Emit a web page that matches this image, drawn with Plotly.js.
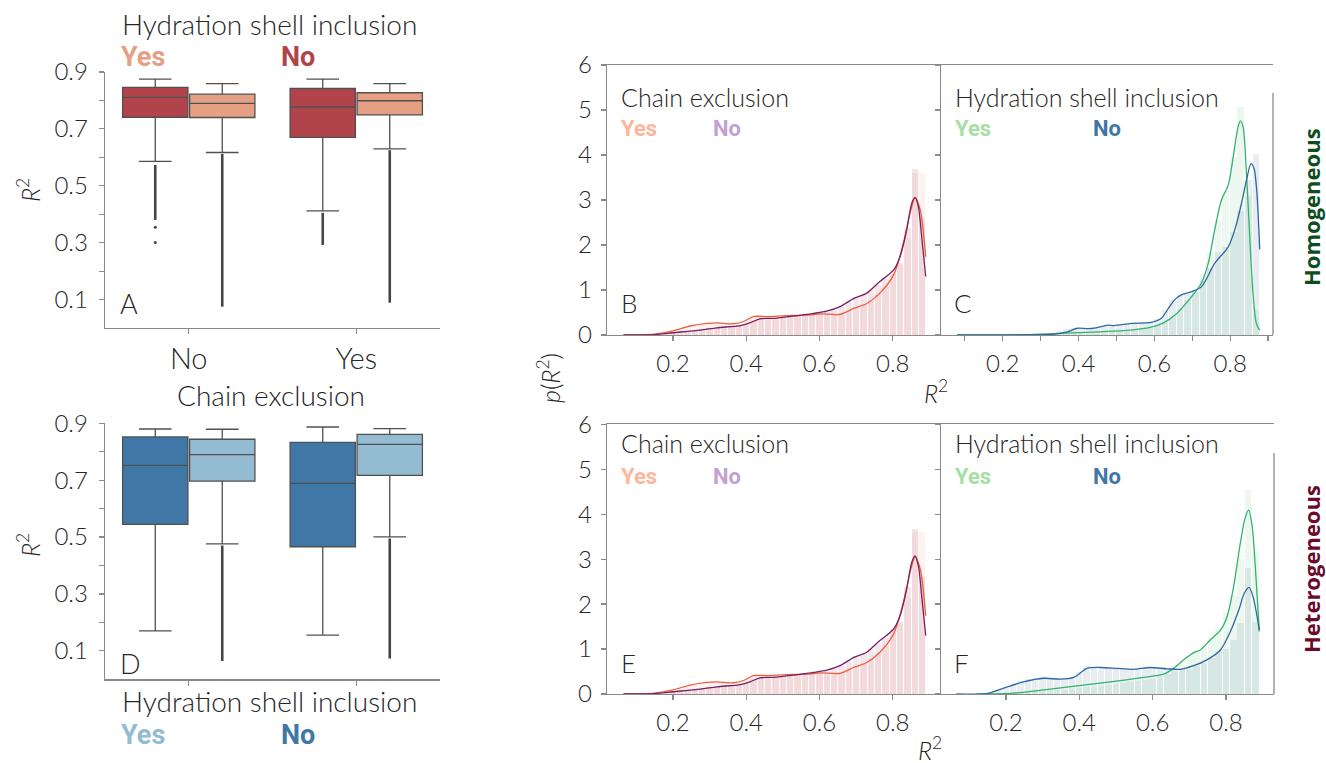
<!DOCTYPE html>
<html>
<head>
<meta charset="utf-8">
<script src="https://cdn.plot.ly/plotly-3.0.1.min.js"></script>
<style>
  html, body { margin: 0; padding: 0; background: #fff; }
  #chart { width: 1326px; height: 763px; }
</style>
</head>
<body>
<div id="chart"></div>
<script>
// ---------- box plots (A: colored by hydration shell, D: by chain exclusion) ----------
const boxCats = ['No', 'Yes'];

// A, hydration shell "No" (dark red)
const aRedQ1 = [0.741, 0.670];
const aRedMed = [0.811, 0.777];
const aRedQ3 = [0.846, 0.842];
const aRedLo = [0.586, 0.412];
const aRedHi = [0.875, 0.875];
const aRedOutTop = [0.573, 0.405];
const aRedOutBot = [0.380, 0.292];
const aRedLone = [[0.354, 0.301], []];

// A, hydration shell "Yes" (salmon)
const aSalQ1 = [0.740, 0.749];
const aSalMed = [0.790, 0.799];
const aSalQ3 = [0.822, 0.827];
const aSalLo = [0.617, 0.630];
const aSalHi = [0.859, 0.859];
const aSalOutTop = [0.612, 0.625];
const aSalOutBot = [0.075, 0.089];

// D, dark blue
const dDarkQ1 = [0.545, 0.466];
const dDarkMed = [0.752, 0.689];
const dDarkQ3 = [0.852, 0.833];
const dDarkLo = [0.170, 0.155];
const dDarkHi = [0.880, 0.887];

// D, light blue
const dLightQ1 = [0.697, 0.717];
const dLightMed = [0.790, 0.826];
const dLightQ3 = [0.844, 0.861];
const dLightLo = [0.476, 0.501];
const dLightHi = [0.879, 0.881];
const dLightOutTop = [0.470, 0.495];
const dLightOutBot = [0.064, 0.073];

// ---------- densities p(R^2) ----------
// B: homogeneous, chain exclusion
const bYesX = [0.065,0.15,0.2,0.247,0.293,0.32,0.365,0.393,0.42,0.456,0.51,0.565,0.602,0.656,0.693,0.729,0.765,0.802,0.829,0.847,0.861,0.875,0.89];
const bYesY = [0,0.02,0.09,0.2,0.26,0.27,0.25,0.30,0.41,0.41,0.43,0.44,0.47,0.46,0.59,0.70,0.93,1.33,2.04,2.70,3.05,2.78,1.74];
const bNoX = [0.065,0.15,0.2,0.275,0.32,0.384,0.41,0.438,0.475,0.53,0.584,0.62,0.656,0.693,0.729,0.765,0.802,0.82,0.838,0.852,0.861,0.87,0.879,0.89];
const bNoY = [0,0.01,0.05,0.11,0.16,0.21,0.27,0.36,0.37,0.42,0.48,0.53,0.63,0.81,0.93,1.19,1.44,1.74,2.33,2.93,3.06,2.85,2.19,1.30];

// C: homogeneous, hydration shell
const cYesX = [0.079,0.272,0.36,0.448,0.536,0.589,0.624,0.659,0.694,0.724,0.742,0.759,0.777,0.795,0.808,0.821,0.827,0.834,0.843,0.852,0.861,0.869,0.878];
const cYesY = [0,0.01,0.04,0.07,0.11,0.17,0.27,0.48,0.81,1.15,1.59,2.33,3.0,3.33,3.96,4.63,4.76,4.63,3.59,2.11,0.85,0.26,0.1];
const cNoX = [0.079,0.30,0.327,0.371,0.397,0.424,0.446,0.477,0.494,0.539,0.592,0.618,0.64,0.653,0.671,0.697,0.724,0.759,0.795,0.812,0.83,0.843,0.855,0.863,0.87,0.878];
const cNoY = [0,0.005,0.01,0.07,0.15,0.14,0.16,0.22,0.21,0.26,0.28,0.37,0.63,0.78,0.89,0.96,1.07,1.59,1.96,2.33,2.93,3.44,3.81,3.70,3.22,1.90];

// E: heterogeneous, chain exclusion
const eYesX = [0.065,0.15,0.2,0.247,0.293,0.32,0.365,0.393,0.42,0.456,0.51,0.565,0.602,0.656,0.693,0.729,0.765,0.802,0.829,0.847,0.861,0.875,0.89];
const eYesY = [0,0.02,0.09,0.2,0.26,0.27,0.25,0.30,0.41,0.41,0.43,0.44,0.47,0.46,0.59,0.70,0.93,1.33,2.04,2.70,3.05,2.78,1.74];
const eNoX = [0.065,0.15,0.2,0.275,0.32,0.384,0.41,0.438,0.475,0.53,0.584,0.62,0.656,0.693,0.729,0.765,0.802,0.82,0.838,0.852,0.861,0.87,0.879,0.89];
const eNoY = [0,0.01,0.05,0.11,0.16,0.21,0.27,0.36,0.37,0.42,0.48,0.53,0.63,0.81,0.93,1.19,1.44,1.74,2.33,2.93,3.07,2.85,2.19,1.30];

// F: heterogeneous, hydration shell
const fYesX = [0.12,0.221,0.303,0.394,0.485,0.575,0.63,0.657,0.685,0.712,0.73,0.757,0.785,0.803,0.821,0.839,0.853,0.862,0.871,0.88,0.891];
const fYesY = [0,0.02,0.09,0.18,0.27,0.37,0.44,0.57,0.76,0.92,0.98,1.2,1.42,1.72,2.39,3.35,3.94,4.09,3.76,2.83,1.39];
const fNoX = [0.065,0.148,0.194,0.248,0.303,0.348,0.385,0.421,0.457,0.503,0.548,0.594,0.639,0.675,0.712,0.748,0.785,0.812,0.835,0.85,0.863,0.874,0.891];
const fNoY = [0,0.01,0.13,0.27,0.35,0.33,0.37,0.57,0.59,0.57,0.55,0.59,0.56,0.55,0.63,0.76,0.98,1.39,1.87,2.24,2.37,2.16,1.42];

// histogram bins (start centre, width) and normalised counts
const binWidth = 0.02;
const bBinStart = 0.10, cBinStart = 0.088, eBinStart = 0.10, fBinStart = 0.10;
const bYesHist = [0.01,0.01,0.02,0.03,0.05,0.08,0.12,0.17,0.21,0.24,0.26,0.26,0.25,0.24,0.26,0.32,0.45,0.42,0.41,0.42,0.43,0.42,0.43,0.44,0.45,0.46,0.45,0.45,0.48,0.55,0.62,0.68,0.78,0.92,1.10,1.35,1.55,2.15,3.60,3.60];
const bNoHist = [0.00,0.01,0.01,0.02,0.03,0.05,0.07,0.09,0.11,0.13,0.15,0.16,0.17,0.18,0.20,0.25,0.33,0.37,0.37,0.38,0.41,0.42,0.43,0.44,0.47,0.50,0.52,0.56,0.62,0.72,0.84,0.90,1.00,1.12,1.25,1.45,1.60,2.37,3.68,2.60];
const cYesHist = [0.01,0.01,0.01,0.01,0.01,0.01,0.01,0.01,0.01,0.01,0.02,0.02,0.03,0.03,0.04,0.04,0.05,0.06,0.07,0.07,0.08,0.09,0.10,0.11,0.13,0.16,0.22,0.30,0.42,0.58,0.78,1.00,1.35,1.85,2.55,3.20,3.95,5.06,3.10,0.55];
const cNoHist = [0.00,0.00,0.00,0.00,0.00,0.00,0.00,0.00,0.01,0.01,0.01,0.02,0.04,0.08,0.14,0.16,0.14,0.15,0.16,0.20,0.22,0.22,0.24,0.27,0.29,0.30,0.36,0.55,0.78,0.88,0.92,0.95,1.20,1.50,1.85,1.95,2.30,2.75,3.45,4.02];
const eYesHist = [0.01,0.01,0.02,0.03,0.05,0.08,0.12,0.17,0.21,0.24,0.26,0.26,0.25,0.24,0.26,0.32,0.45,0.42,0.41,0.42,0.43,0.42,0.43,0.44,0.45,0.46,0.45,0.45,0.48,0.55,0.62,0.68,0.78,0.92,1.10,1.35,1.55,2.15,3.60,3.60];
const eNoHist = [0.00,0.01,0.01,0.02,0.03,0.05,0.07,0.09,0.11,0.13,0.15,0.16,0.17,0.18,0.20,0.25,0.33,0.37,0.37,0.38,0.41,0.42,0.43,0.44,0.47,0.50,0.52,0.56,0.62,0.72,0.84,0.90,1.00,1.12,1.25,1.45,1.60,2.37,3.68,2.60];
const fYesHist = [0.00,0.00,0.00,0.01,0.01,0.02,0.03,0.04,0.05,0.06,0.07,0.08,0.09,0.10,0.12,0.13,0.15,0.16,0.18,0.20,0.22,0.24,0.26,0.28,0.31,0.34,0.38,0.44,0.52,0.65,0.85,0.95,1.05,1.25,1.45,1.80,2.20,3.00,4.53,3.19];
const fNoHist = [0.00,0.01,0.02,0.05,0.09,0.14,0.22,0.28,0.33,0.36,0.37,0.36,0.35,0.35,0.38,0.50,0.63,0.60,0.55,0.60,0.58,0.56,0.55,0.58,0.57,0.60,0.56,0.55,0.54,0.55,0.56,0.62,0.68,0.80,0.95,1.00,1.20,1.57,2.81,1.60];

// ---------- styling ----------
const W = 1326, H = 763;
const px = v => v / W;
const py = v => 1 - v / H;
const LIGHT = {family: 'Lato, "Open Sans", sans-serif', weight: 300, color: '#262626'};
const BOLD = 'Roboto, "Liberation Sans", sans-serif';
const AX = '#8a8a8a';

const col = {
  red: '#b0444a', salmon: '#e5a084',
  darkBlue: '#3f77a6', lightBlue: '#93bbd2',
  orange: '#ef5c3c', purple: '#7a2062',
  green: '#30b46c', blue: '#2f68a0'
};

const traces = [];
const offset = 0.2, boxW = 0.39;

function boxTrace(axis, q1, med, q3, lo, hi, fill, side) {
  return {
    type: 'box', xaxis: 'x' + axis, yaxis: 'y' + axis,
    x: boxCats.map((c, i) => i + side * offset),
    q1: q1, median: med, q3: q3, lowerfence: lo, upperfence: hi,
    width: boxW, whiskerwidth: 0.5, boxpoints: false,
    fillcolor: fill, line: {color: '#505050', width: 1.3},
    hoverinfo: 'skip', showlegend: false
  };
}
function outlierTraces(axis, top, bot, side, lone) {
  boxCats.forEach((c, i) => {
    traces.push({
      type: 'scatter', mode: 'lines', xaxis: 'x' + axis, yaxis: 'y' + axis,
      x: [i + side * offset, i + side * offset], y: [top[i], bot[i]],
      line: {color: '#454545', width: 2.6}, showlegend: false, hoverinfo: 'skip'
    });
    if (lone && lone[i].length) {
      traces.push({
        type: 'scatter', mode: 'markers', xaxis: 'x' + axis, yaxis: 'y' + axis,
        x: lone[i].map(() => i + side * offset), y: lone[i],
        marker: {color: '#454545', size: 3}, showlegend: false, hoverinfo: 'skip'
      });
    }
  });
}

traces.push(boxTrace('', aRedQ1, aRedMed, aRedQ3, aRedLo, aRedHi, col.red, -1));
traces.push(boxTrace('', aSalQ1, aSalMed, aSalQ3, aSalLo, aSalHi, col.salmon, 1));
outlierTraces('', aRedOutTop, aRedOutBot, -1, aRedLone);
outlierTraces('', aSalOutTop, aSalOutBot, 1, null);

traces.push(boxTrace('2', dDarkQ1, dDarkMed, dDarkQ3, dDarkLo, dDarkHi, col.darkBlue, -1));
traces.push(boxTrace('2', dLightQ1, dLightMed, dLightQ3, dLightLo, dLightHi, col.lightBlue, 1));
outlierTraces('2', dLightOutTop, dLightOutBot, 1, null);

function histTrace(axis, start, vals, color) {
  return {
    type: 'bar', xaxis: 'x' + axis, yaxis: 'y' + axis,
    x0: start, dx: binWidth, y: vals, width: binWidth * 0.88,
    marker: {color: color, line: {width: 0}},
    showlegend: false, hoverinfo: 'skip'
  };
}
function kdeTrace(axis, xs, ys, color) {
  return {
    type: 'scatter', mode: 'lines', xaxis: 'x' + axis, yaxis: 'y' + axis,
    x: xs, y: ys, line: {color: color, width: 1.3, shape: 'spline', smoothing: 0.8},
    showlegend: false, hoverinfo: 'skip'
  };
}
const pinkYes = 'rgba(250,185,170,0.2)', pinkNo = 'rgba(160,60,100,0.13)';
const greenYes = 'rgba(160,220,175,0.2)', blueNo = 'rgba(120,155,180,0.18)';

traces.push(histTrace('3', bBinStart, bYesHist, pinkYes), histTrace('3', bBinStart, bNoHist, pinkNo));
traces.push(kdeTrace('3', bYesX, bYesY, col.orange), kdeTrace('3', bNoX, bNoY, col.purple));
traces.push(histTrace('4', cBinStart, cYesHist, greenYes), histTrace('4', cBinStart, cNoHist, blueNo));
traces.push(kdeTrace('4', cYesX, cYesY, col.green), kdeTrace('4', cNoX, cNoY, col.blue));
traces.push(histTrace('5', eBinStart, eYesHist, pinkYes), histTrace('5', eBinStart, eNoHist, pinkNo));
traces.push(kdeTrace('5', eYesX, eYesY, col.orange), kdeTrace('5', eNoX, eNoY, col.purple));
traces.push(histTrace('6', fBinStart, fYesHist, greenYes), histTrace('6', fBinStart, fNoHist, blueNo));
traces.push(kdeTrace('6', fYesX, fYesY, col.green), kdeTrace('6', fNoX, fNoY, col.blue));

// ---------- axes ----------
const tickFont = {family: LIGHT.family, weight: 300, size: 24, color: '#262626'};
const baseAxis = {
  showline: true, linecolor: AX, linewidth: 1.3, ticks: 'outside', ticklen: 5,
  tickcolor: AX, tickwidth: 1.2, showgrid: false, zeroline: false,
  tickfont: tickFont, fixedrange: true
};
const r2Ticks = [0.1, 0.2, 0.3, 0.4, 0.5, 0.6, 0.7, 0.8, 0.9];
const r2Text = ['0.1', ' ', '0.3', ' ', '0.5', ' ', '0.7', ' ', '0.9'];
const pTicks = [0, 1, 2, 3, 4, 5, 6];
const xMajor = [0.2, 0.4, 0.6, 0.8];
const xMajorText = ['0.2', '0.4', '0.6', '0.8'];
const xMinorText = [' ', '0.2', ' ', '0.4', ' ', '0.6', ' ', '0.8', ' '];

const leftX = [px(105), px(440)];
const topY = [py(328), py(72)];
const botY = [py(679.3), py(423.3)];
const bX = [px(607), px(940)];
const cX = [px(941), px(1273)];
const fX = [px(941), px(1274)];
const rTopY = [py(335), py(65)];
const rBotY = [py(694), py(424.3)];

const layout = {
  width: W, height: H, margin: {l: 0, r: 0, t: 0, b: 0},
  paper_bgcolor: '#fff', plot_bgcolor: 'rgba(0,0,0,0)',
  barmode: 'overlay', bargap: 0, showlegend: false,
  font: {family: LIGHT.family, color: '#262626'},
  xaxis: Object.assign({}, baseAxis, {domain: leftX, range: [-0.5, 1.5], anchor: 'y',
    tickvals: [0, 1], ticktext: boxCats, ticklabelstandoff: 0,
    tickfont: Object.assign({}, tickFont, {size: 29})}),
  yaxis: Object.assign({}, baseAxis, {domain: topY, range: [0, 0.9], anchor: 'x',
    tickvals: r2Ticks, ticktext: r2Text, ticklabelstandoff: 6}),
  xaxis2: Object.assign({}, baseAxis, {domain: leftX, range: [-0.5, 1.5], anchor: 'y2',
    tickvals: [0, 1], showticklabels: false}),
  yaxis2: Object.assign({}, baseAxis, {domain: botY, range: [0, 0.9], anchor: 'x2',
    tickvals: r2Ticks, ticktext: r2Text, ticklabelstandoff: 6}),
  xaxis3: Object.assign({}, baseAxis, {domain: bX, range: [0.02, 0.929], anchor: 'y3',
    tickvals: xMajor, ticktext: xMajorText, mirror: true, ticklabelstandoff: 2}),
  yaxis3: Object.assign({}, baseAxis, {domain: rTopY, range: [0, 6], anchor: 'x3',
    tickvals: pTicks, ticklabelstandoff: 4}),
  xaxis4: Object.assign({}, baseAxis, {domain: cX, range: [0.037, 0.913], anchor: 'y4',
    tickvals: r2Ticks, ticktext: xMinorText, mirror: true, ticklabelstandoff: 2}),
  yaxis4: Object.assign({}, baseAxis, {domain: rTopY, range: [0, 6], anchor: 'x4',
    tickvals: pTicks, showticklabels: false}),
  xaxis5: Object.assign({}, baseAxis, {domain: bX, range: [0.02, 0.929], anchor: 'y5',
    tickvals: xMajor, ticktext: xMajorText, mirror: true, ticklabelstandoff: 2}),
  yaxis5: Object.assign({}, baseAxis, {domain: rBotY, range: [0, 6], anchor: 'x5',
    tickvals: pTicks, ticklabelstandoff: 4}),
  xaxis6: Object.assign({}, baseAxis, {domain: fX, range: [0.023, 0.931], anchor: 'y6',
    tickvals: xMajor, ticktext: xMajorText, mirror: true, ticklabelstandoff: 2}),
  yaxis6: Object.assign({}, baseAxis, {domain: rBotY, range: [0, 6], anchor: 'x6',
    tickvals: pTicks, showticklabels: false}),
  shapes: [
    {type: 'line', xref: 'x4 domain', yref: 'y4 domain', x0: 1, x1: 1, y0: 0, y1: 0.896,
     line: {color: AX, width: 1.3}},
    {type: 'line', xref: 'x6 domain', yref: 'y6 domain', x0: 1, x1: 1, y0: 0, y1: 0.894,
     line: {color: AX, width: 1.3}}
  ],
  annotations: []
};

function label(text, x, y, opts) {
  layout.annotations.push(Object.assign({
    text: text, xref: 'paper', yref: 'paper', x: px(x), y: py(y),
    xanchor: 'left', yanchor: 'middle', showarrow: false,
    font: {family: LIGHT.family, weight: 300, size: 25, color: '#262626'}
  }, opts || {}));
}
// heavy group labels
function tag(text, x, y, color, size) {
  label(text, x, y, {font: {family: BOLD, weight: 700, size: size, color: color}});
}
const big = {xanchor: 'center', font: {family: LIGHT.family, weight: 300, size: 28, color: '#262626'}};
const small = {font: {family: LIGHT.family, weight: 300, size: 25, color: '#262626'}};
const axTitle = size => ({family: LIGHT.family, weight: 300, size: size, color: '#262626'});

// left column
label('Hydration shell inclusion', 269, 24, big);
tag('Yes', 119, 57, col.salmon, 27);
tag('No', 279, 57, col.red, 27);
label('<i>R</i><sup>2</sup>', 28, 190, {xanchor: 'center', textangle: -90, font: axTitle(25)});
label('A', 118, 303, {font: axTitle(27)});

label('Chain exclusion', 271, 395, big);
label('Hydration shell inclusion', 269, 701, big);
tag('Yes', 119, 735, col.lightBlue, 27);
tag('No', 279, 735, col.darkBlue, 27);
label('<i>R</i><sup>2</sup>', 28, 545, {xanchor: 'center', textangle: -90, font: axTitle(25)});
label('D', 118, 663, {font: axTitle(27)});

// right column
label('Chain exclusion', 619, 97, small);
tag('Yes', 619, 129, '#ffb59b', 22);
tag('No', 711, 129, '#c3a1d3', 22);
label('Hydration shell inclusion', 953, 97, small);
tag('Yes', 953, 129, '#a6dea4', 22);
tag('No', 1091, 129, col.darkBlue, 22);
label('B', 619, 303, {font: axTitle(26)});
label('C', 952, 303, {font: axTitle(26)});

label('Chain exclusion', 619, 443, small);
tag('Yes', 619, 476, '#ffb59b', 22);
tag('No', 711, 476, '#c3a1d3', 22);
label('Hydration shell inclusion', 953, 443, small);
tag('Yes', 953, 476, '#a6dea4', 22);
tag('No', 1091, 476, col.darkBlue, 22);
label('E', 619, 663, {font: axTitle(26)});
label('F', 952, 663, {font: axTitle(26)});

label('<i>R</i><sup>2</sup>', 936, 391, {xanchor: 'center', font: axTitle(25)});
label('<i>R</i><sup>2</sup>', 930, 748, {xanchor: 'center', font: axTitle(25)});
label('<i>p</i>(<i>R</i><sup>2</sup>)', 548, 378, {xanchor: 'center', textangle: -90, font: axTitle(25)});

label('Homogeneous', 1311, 207, {xanchor: 'center', textangle: -90,
  font: {family: '"Open Sans", "Noto Sans", sans-serif', weight: 700, size: 22, color: '#0c4e20'}});
label('Heterogeneous', 1311, 569, {xanchor: 'center', textangle: -90,
  font: {family: '"Open Sans", "Noto Sans", sans-serif', weight: 700, size: 22, color: '#6a0b2c'}});

Plotly.newPlot('chart', traces, layout, {displayModeBar: false, staticPlot: true});
</script>
</body>
</html>
